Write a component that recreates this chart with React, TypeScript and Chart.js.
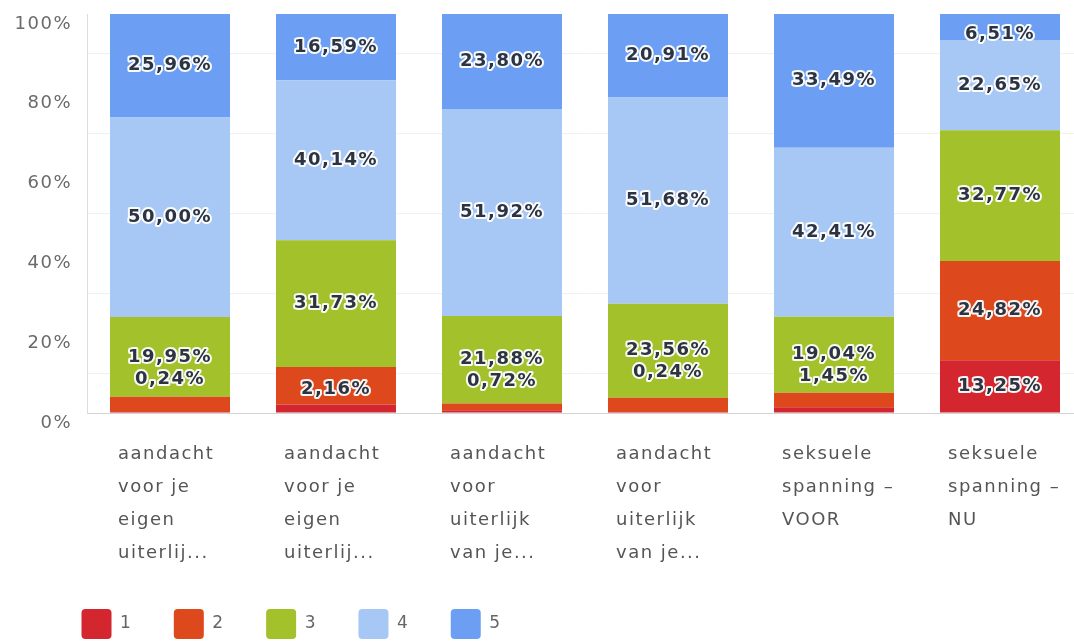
import React, { useEffect, useRef } from "react";
import { Chart, registerables } from "chart.js";

Chart.register(...registerables);

// ---------- data ----------
const categories: string[][] = [
  ["aandacht", "voor je", "eigen", "uiterlij..."],
  ["aandacht", "voor je", "eigen", "uiterlij..."],
  ["aandacht", "voor", "uiterlijk", "van je..."],
  ["aandacht", "voor", "uiterlijk", "van je..."],
  ["seksuele", "spanning –", "VOOR"],
  ["seksuele", "spanning –", "NU"],
];
const seriesNames = ["1", "2", "3", "4", "5"];
const series1 = [0.24, 2.16, 0.72, 0.24, 1.45, 13.25];
const series2 = [3.85, 9.38, 1.68, 3.61, 3.61, 24.82];
const series3 = [19.95, 31.73, 21.88, 23.56, 19.04, 32.77];
const series4 = [50.0, 40.14, 51.92, 51.68, 42.41, 22.65];
const series5 = [25.96, 16.59, 23.8, 20.91, 33.49, 6.51];
const seriesColors = ["#d3262e", "#de481d", "#a2c12a", "#a7c7f5", "#6c9ff3"];
const yMax = 100;
const yStep = 20;

const fmt = (v: number) => v.toFixed(2).replace(".", ",") + "%";

const FONT = "'DejaVu Sans', sans-serif";

const spacingPlugin = {
  id: "spacing",
  beforeDraw(chart: any) {
    (chart.ctx as any).letterSpacing = "1.5px";
  },
  afterLayout(chart: any) {
    if (chart.legend) chart.legend.left = 40;
  },
};

const valueLabelPlugin = {
  id: "valueLabels",
  afterDatasetsDraw(chart: any) {
    const ctx = chart.ctx;
    const area = chart.chartArea;
    const n = chart.data.labels.length;
    ctx.save();
    (ctx as any).letterSpacing = "1.5px";
    ctx.font = `bold 18px ${FONT}`;
    ctx.textAlign = "center";
    ctx.textBaseline = "middle";
    ctx.lineJoin = "round";
    for (let i = 0; i < n; i++) {
      const els = chart.data.datasets.map((_: any, di: number) => chart.getDatasetMeta(di).data[i]);
      const labels: { di: number; y: number; merged?: boolean }[] = [];
      const e0 = els[0];
      const e1 = els[1];
      const combinedH = e0.base - e1.y;
      let start = 0;
      if (combinedH < 50) {
        labels.push({ di: 0, y: (e0.base + e1.y) / 2, merged: true });
        start = 2;
      }
      for (let di = start; di < els.length; di++) {
        labels.push({ di, y: (els[di].y + els[di].base) / 2 });
      }
      if (labels[0].merged && labels[0].y > area.bottom - 22 && labels[1]) {
        labels[0].y = labels[1].y + 22;
      }
      for (const l of labels) {
        const y = Math.max(l.y, area.top + 20);
        const v = chart.data.datasets[l.di].data[i];
        const t = fmt(v);
        const x = els[l.di].x;
        ctx.strokeStyle = "rgba(255,255,255,0.95)";
        ctx.lineWidth = 4;
        ctx.strokeText(t, x, y);
        ctx.fillStyle = "#2c3442";
        ctx.fillText(t, x, y);
      }
    }
    ctx.restore();
  },
};

export default function App() {
  const ref = useRef<HTMLCanvasElement | null>(null);
  useEffect(() => {
    if (!ref.current) return;
    const seriesData = [series1, series2, series3, series4, series5];
    const chart = new Chart(ref.current, {
      type: "bar",
      data: {
        labels: categories,
        datasets: seriesData.map((d, k) => ({
          label: seriesNames[k],
          data: d,
          backgroundColor: seriesColors[k],
          borderWidth: 0,
          barPercentage: 0.723,
          categoryPercentage: 1,
        })),
      },
      options: {
        responsive: false,
        animation: false,
        devicePixelRatio: 1,
        layout: { padding: { left: 0, right: 7, top: 14, bottom: 1 } },
        scales: {
          x: {
            stacked: true,
            grid: { display: false, drawTicks: false },
            border: { display: true, color: "#d4d4d4", width: 1 },
            ticks: {
              align: "start",
              labelOffset: -52,
              padding: 25,
              color: "#555555",
              font: { family: FONT, size: 18, lineHeight: "33px" } as any,
              maxRotation: 0,
              autoSkip: false,
            },
            afterFit(scale: any) {
              scale.height = 154.5;
              scale.paddingLeft = 0;
              scale.paddingRight = 0;
            },
          },
          y: {
            stacked: true,
            min: 0,
            max: yMax,
            grid: { offset: true, color: "#f1f1f1", drawTicks: false },
            border: { display: true, color: "#dcdcdc", width: 1 },
            ticks: {
              stepSize: yStep,
              padding: 15,
              labelOffset: 10,
              color: "#6a6a6a",
              font: { family: FONT, size: 18 },
              callback: (v: any) => v + "%",
            },
            afterFit(scale: any) {
              scale.width = 87;
              scale.paddingTop = 0;
              scale.paddingBottom = 0;
            },
          },
        },
        plugins: {
          legend: {
            position: "bottom",
            align: "start",
            labels: {
              boxWidth: 30,
              boxHeight: 30,
              padding: 41.5,
              useBorderRadius: true,
              borderRadius: 4,
              color: "#666666",
              font: { family: FONT, size: 17 },
            },
          },
          tooltip: { enabled: false },
        },
      } as any,
      plugins: [spacingPlugin, valueLabelPlugin],
    });
    return () => chart.destroy();
  }, []);
  return (
    <div style={{ position: "fixed", left: 0, top: 0, width: 1074, height: 644, overflow: "hidden", background: "#fff" }}>
      <canvas ref={ref} width={1090} height={650} style={{ display: "block" }} />
    </div>
  );
}
